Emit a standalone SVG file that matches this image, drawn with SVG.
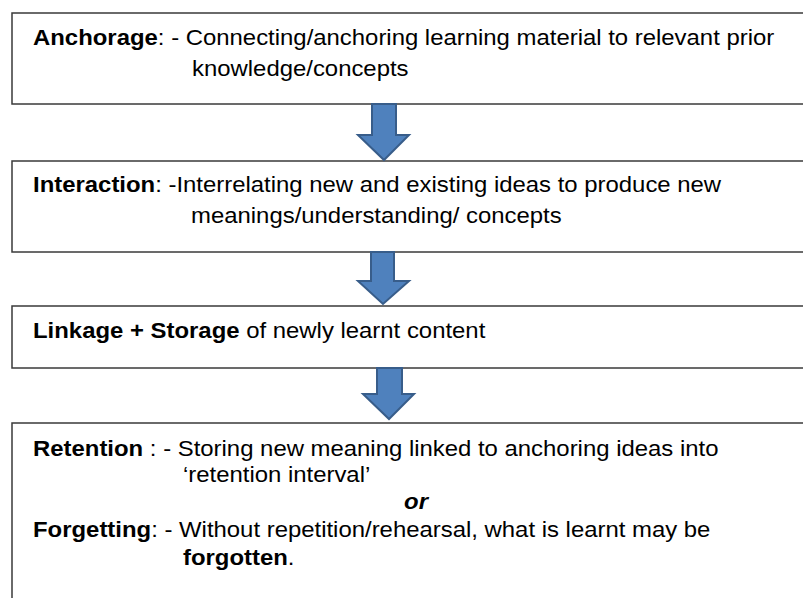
<svg xmlns="http://www.w3.org/2000/svg" width="803" height="598" viewBox="0 0 803 598">
  <style>
    .box { fill: #ffffff; stroke: #3a3a3a; stroke-width: 1.5; }
    .txt { font-family: "Liberation Sans", Arial, sans-serif; font-size: 22.3px; fill: #000000; }
    .b { font-weight: bold; }
    .bi { font-weight: bold; font-style: italic; }
    .arrow { fill: #4f81bd; stroke: #385d8a; stroke-width: 2; stroke-linejoin: miter; }
  </style>
  <rect x="0" y="0" width="803" height="598" fill="#ffffff"/>

  <!-- stages of the learning process -->
  <g id="anchorage">
    <rect class="box" x="12" y="13" width="800" height="91"/>
    <g transform="scale(1.072,1)">
      <text class="txt" x="30.8" y="45"><tspan class="b">Anchorage</tspan>: - Connecting/anchoring learning material to relevant prior</text>
      <text class="txt" x="179.1" y="76">knowledge/concepts</text>
    </g>
  </g>

  <g id="interaction">
    <rect class="box" x="12" y="161" width="800" height="91"/>
    <g transform="scale(1.072,1)">
      <text class="txt" x="30.8" y="192"><tspan class="b">Interaction</tspan>: -Interrelating new and existing ideas to produce new</text>
      <text class="txt" x="178.2" y="223">meanings/understanding/ concepts</text>
    </g>
  </g>

  <g id="linkage-storage">
    <rect class="box" x="12" y="306" width="800" height="62"/>
    <g transform="scale(1.072,1)">
      <text class="txt" x="30.8" y="338"><tspan class="b">Linkage + Storage</tspan> of newly learnt content</text>
    </g>
  </g>

  <g id="retention-forgetting">
    <rect class="box" x="12" y="423" width="800" height="200"/>
    <g transform="scale(1.072,1)">
      <text class="txt" x="30.8" y="456"><tspan class="b">Retention</tspan> : - Storing new meaning linked to anchoring ideas into</text>
      <text class="txt" x="170.7" y="482">‘retention interval’</text>
      <text class="txt bi" x="376.9" y="509">or</text>
      <text class="txt" x="30.8" y="537"><tspan class="b">Forgetting</tspan>: - Without repetition/rehearsal, what is learnt may be</text>
      <text class="txt" x="170.7" y="565"><tspan class="b">forgotten</tspan>.</text>
    </g>
  </g>

  <!-- block arrows between stages -->
  <g id="connectors">
    <path class="arrow" d="M372,104 H396 V135 H409 L384,160 L358,135 H372 Z"/>
    <path class="arrow" d="M371,252 H394 V281 H409 L383,304 L358,281 H371 Z"/>
    <path class="arrow" d="M377,368 H402 V394 H414 L389,419 L363,394 H377 Z"/>
  </g>
</svg>
